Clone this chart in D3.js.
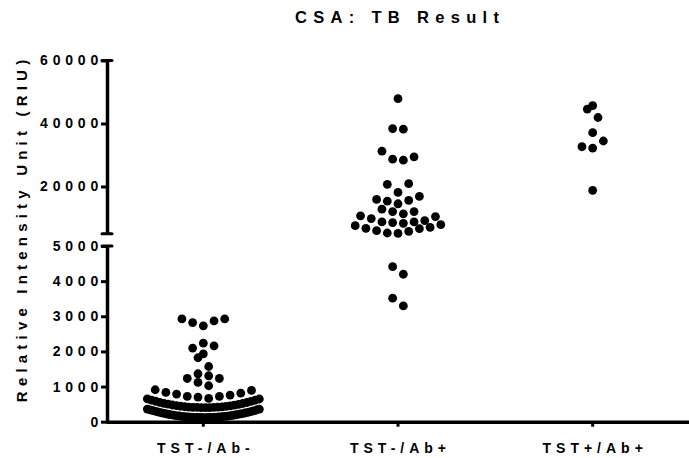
<!DOCTYPE html>
<html>
<head>
<meta charset="utf-8">
<script src="https://cdn.jsdelivr.net/npm/d3@7"></script>
<style>
  body { margin: 0; background: #fff; }
  svg text { font-family: 'Liberation Sans', Arial, sans-serif; font-weight: bold; fill: #000; }
</style>
</head>
<body>
<div class="chart"></div>
<script>
const groups = ['TST-/Ab-', 'TST-/Ab+', 'TST+/Ab+'];

// RIU values (dense bottom of the first group estimated)
const tstNegAbNeg = [
  2926, 2926, 2869, 2821, 2727, 2236, 2159, 2094, 1932, 1820, 1571, 1364, 1307,
  1230, 1230, 1117, 1023, 909, 889, 832, 815, 787, 759, 719, 719, 702, 662,
  650, 646, 616, 611, 582, 577, 551, 546, 523, 518, 498, 493, 475, 471,
  456, 452, 440, 436, 426, 423, 416, 413, 408, 406, 405, 403, 402, 401,
  360, 357, 338, 333, 314, 310, 292, 288, 271, 267, 251, 248, 233, 230,
  216, 213, 201, 198, 187, 184, 174, 171, 162, 160, 152, 150, 143, 141,
  136, 134, 130, 128, 125, 123, 122, 120, 120, 119, 119, 118
];
const tstNegAbPos = [
  47880, 38376, 38184, 31200, 29416, 28680, 28360, 20888, 20680, 18100, 16840,
  15880, 15560, 15336, 14504, 12776, 12040, 12040, 11304, 10664, 10440, 9800,
  9160, 8744, 8744, 8520, 8296, 7880, 7560, 7016, 6696, 6600, 5960, 5736, 5224,
  5096, 4412, 4196, 3514, 3295
];
const tstPosAbPos = [45640, 44584, 41896, 37096, 34440, 32616, 32200, 18760];

const lowTicks = [0, 1000, 2000, 3000, 4000, 5000];
const highTicks = [20000, 40000, 60000];
const series = [tstNegAbNeg, tstNegAbPos, tstPosAbPos];

const width = 689;
const height = 458;
const breakAt = 5000;
const axisX = 107;
const r = 4.4;
const rowH = 9; // px, points closer than this share a row
const dotStep = 10.7;
const maxSpread = 112;

const x = d3.scaleBand().domain(groups).range([106, 690]);
const yLow = d3.scaleLinear().domain([0, breakAt]).range([421.7, 246]);
const yHigh = d3.scaleLinear().domain([breakAt, 60000]).range([233.7, 60.5]);
const y = (v) => (v > breakAt ? yHigh(v) : yLow(v));

// Prism style scatter: bin into rows, lowest value in the middle of a row
function swarm(values, cx) {
  const pts = values
    .map((v) => ({ v: v, y: y(v) }))
    .sort((a, b) => b.y - a.y);
  const rows = [];
  let row = null;
  pts.forEach((p) => {
    if (!row || row[0].y - p.y > rowH) {
      row = [];
      rows.push(row);
    }
    row.push(p);
  });
  rows.forEach((rw) => {
    const n = rw.length;
    const step = n > 1 ? Math.min(dotStep, maxSpread / (n - 1)) : 0;
    rw.forEach((p, i) => {
      let slot;
      if (n % 2) slot = i === 0 ? 0 : (i % 2 ? -1 : 1) * Math.ceil(i / 2);
      else slot = (i % 2 ? -1 : 1) * (Math.floor(i / 2) + 0.5);
      p.x = cx + slot * step;
    });
  });
  return pts;
}

const svg = d3
  .select('.chart')
  .append('svg')
  .attr('width', width)
  .attr('height', height);

const tickLs = 4.8;

function styleY(g) {
  g.attr('font-size', 14).attr('font-family', null);
  g.select('.domain').attr('stroke-width', 3.5);
  g.selectAll('.tick line').attr('stroke-width', 3);
  g.selectAll('.tick text').attr('letter-spacing', tickLs);
}

svg
  .append('g')
  .attr('transform', `translate(${axisX},0)`)
  .call(
    d3.axisLeft(yLow).tickValues(lowTicks).tickSize(6).tickSizeOuter(0)
      .tickPadding(-2).tickFormat(d3.format('d'))
  )
  .call(styleY);

svg
  .append('g')
  .attr('transform', `translate(${axisX},0)`)
  .call(
    d3.axisLeft(yHigh).tickValues(highTicks).tickSize(6).tickSizeOuter(0)
      .tickPadding(-2).tickFormat(d3.format('d'))
  )
  .call(styleY);

// caps on the broken axis
svg
  .append('g')
  .selectAll('line')
  .data([yHigh(60000), yHigh(breakAt), yLow(breakAt)])
  .join('line')
  .attr('x1', axisX - 5)
  .attr('x2', axisX + 5)
  .attr('y1', (d) => d)
  .attr('y2', (d) => d)
  .attr('stroke', '#000')
  .attr('stroke-width', 3)
  .attr('stroke-linecap', 'round');

const labelLs = 5;
const xAxis = svg
  .append('g')
  .attr('transform', `translate(0,${yLow(0)})`)
  .call(d3.axisBottom(x).tickSize(5).tickSizeOuter(0));
xAxis.attr('font-size', 14).attr('font-family', null);
xAxis.select('.domain').attr('stroke-width', 3.5);
xAxis.selectAll('.tick line').attr('stroke-width', 3);
xAxis
  .selectAll('.tick text')
  .attr('letter-spacing', labelLs)
  .attr('x', labelLs / 2)
  .attr('y', 31)
  .attr('dy', 0);

// dots
series.forEach((vals, i) => {
  const cx = x(groups[i]) + x.bandwidth() / 2;
  svg
    .append('g')
    .selectAll('circle')
    .data(swarm(vals, cx))
    .join('circle')
    .attr('cx', (d) => d.x)
    .attr('cy', (d) => d.y)
    .attr('r', r)
    .attr('fill', '#000');
});

// title
const titleLs = 6.3;
svg
  .append('text')
  .attr('x', 397 + titleLs / 2)
  .attr('y', 23)
  .attr('text-anchor', 'middle')
  .attr('font-size', 16.5)
  .attr('letter-spacing', titleLs)
  .text('CSA: TB Result');

// y axis title
const yLs = 5.2;
svg
  .append('text')
  .attr('transform', 'translate(27,231) rotate(-90)')
  .attr('x', yLs / 2)
  .attr('text-anchor', 'middle')
  .attr('font-size', 15)
  .attr('letter-spacing', yLs)
  .text('Relative Intensity Unit (RIU)');
</script>
</body>
</html>
